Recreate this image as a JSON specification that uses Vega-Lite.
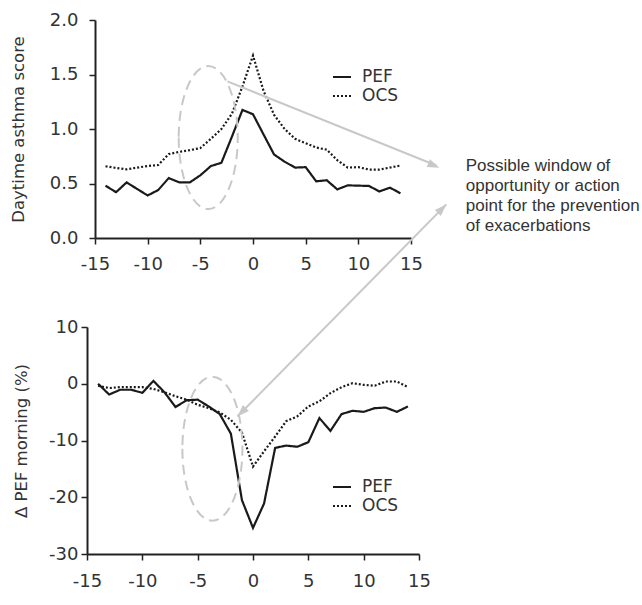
{
  "$schema": "https://vega.github.io/schema/vega-lite/v6.json",
  "background": "white",
  "padding": {"left": 10, "top": 11, "right": 0, "bottom": 5},
  "bounds": "flush",
  "center": true,
  "spacing": 89,
  "config": {
    "view": {"stroke": null},
    "axis": {
      "grid": false,
      "domainColor": "#222222",
      "domainWidth": 2,
      "tickColor": "#222222",
      "tickWidth": 1.5,
      "tickSize": 6,
      "labelColor": "#333333",
      "labelFont": "DejaVu Sans",
      "labelFontSize": 18,
      "titleColor": "#333333",
      "titleFont": "DejaVu Sans",
      "titleFontSize": 16.5,
      "titleFontWeight": "normal",
      "labelOverlap": false,
      "labelFlush": false,
      "labelExpr": "replace(datum.label, '\u2212', '-')"
    },
    "legend": {
      "labelFont": "DejaVu Sans",
      "labelFontSize": 17,
      "labelColor": "#333333",
      "padding": 0,
      "symbolType": "stroke",
      "symbolSize": 324,
      "symbolStrokeWidth": 2,
      "symbolStrokeColor": "#1a1a1a",
      "rowPadding": 1,
      "labelOffset": 10
    }
  },
  "resolve": {"scale": {"strokeDash": "independent"}, "legend": {"strokeDash": "independent"}},
  "datasets": {
    "daytime": [
      {"day": -14, "series": "PEF", "value": 0.48}, {"day": -13, "series": "PEF", "value": 0.42}, {"day": -12, "series": "PEF", "value": 0.51},
      {"day": -11, "series": "PEF", "value": 0.45}, {"day": -10, "series": "PEF", "value": 0.39}, {"day": -9, "series": "PEF", "value": 0.44},
      {"day": -8, "series": "PEF", "value": 0.55}, {"day": -7, "series": "PEF", "value": 0.51}, {"day": -6, "series": "PEF", "value": 0.51},
      {"day": -5, "series": "PEF", "value": 0.575}, {"day": -4, "series": "PEF", "value": 0.66}, {"day": -3, "series": "PEF", "value": 0.69},
      {"day": -2, "series": "PEF", "value": 0.93}, {"day": -1, "series": "PEF", "value": 1.175}, {"day": 0, "series": "PEF", "value": 1.135},
      {"day": 1, "series": "PEF", "value": 0.95}, {"day": 2, "series": "PEF", "value": 0.766}, {"day": 3, "series": "PEF", "value": 0.7},
      {"day": 4, "series": "PEF", "value": 0.646}, {"day": 5, "series": "PEF", "value": 0.65}, {"day": 6, "series": "PEF", "value": 0.52},
      {"day": 7, "series": "PEF", "value": 0.53}, {"day": 8, "series": "PEF", "value": 0.446}, {"day": 9, "series": "PEF", "value": 0.483},
      {"day": 10, "series": "PEF", "value": 0.48}, {"day": 11, "series": "PEF", "value": 0.478}, {"day": 12, "series": "PEF", "value": 0.427},
      {"day": 13, "series": "PEF", "value": 0.462}, {"day": 14, "series": "PEF", "value": 0.41},
      {"day": -14, "series": "OCS", "value": 0.658}, {"day": -13, "series": "OCS", "value": 0.643}, {"day": -12, "series": "OCS", "value": 0.63},
      {"day": -11, "series": "OCS", "value": 0.646}, {"day": -10, "series": "OCS", "value": 0.66}, {"day": -9, "series": "OCS", "value": 0.67},
      {"day": -8, "series": "OCS", "value": 0.77}, {"day": -7, "series": "OCS", "value": 0.79}, {"day": -6, "series": "OCS", "value": 0.806},
      {"day": -5, "series": "OCS", "value": 0.825}, {"day": -4, "series": "OCS", "value": 0.91}, {"day": -3, "series": "OCS", "value": 1.0},
      {"day": -2, "series": "OCS", "value": 1.14}, {"day": -1, "series": "OCS", "value": 1.39}, {"day": 0, "series": "OCS", "value": 1.674},
      {"day": 1, "series": "OCS", "value": 1.35}, {"day": 2, "series": "OCS", "value": 1.13}, {"day": 3, "series": "OCS", "value": 1.0},
      {"day": 4, "series": "OCS", "value": 0.91}, {"day": 5, "series": "OCS", "value": 0.87}, {"day": 6, "series": "OCS", "value": 0.83},
      {"day": 7, "series": "OCS", "value": 0.81}, {"day": 8, "series": "OCS", "value": 0.714}, {"day": 9, "series": "OCS", "value": 0.646},
      {"day": 10, "series": "OCS", "value": 0.65}, {"day": 11, "series": "OCS", "value": 0.628}, {"day": 12, "series": "OCS", "value": 0.628},
      {"day": 13, "series": "OCS", "value": 0.646}, {"day": 14, "series": "OCS", "value": 0.665}
    ],
    "pefmorning": [
      {"day": -14, "series": "PEF", "value": 0}, {"day": -13, "series": "PEF", "value": -1.9}, {"day": -12, "series": "PEF", "value": -1.06},
      {"day": -11, "series": "PEF", "value": -1.06}, {"day": -10, "series": "PEF", "value": -1.6}, {"day": -9, "series": "PEF", "value": 0.5},
      {"day": -8, "series": "PEF", "value": -1.5}, {"day": -7, "series": "PEF", "value": -4.1}, {"day": -6, "series": "PEF", "value": -2.9},
      {"day": -5, "series": "PEF", "value": -2.8}, {"day": -4, "series": "PEF", "value": -4.0}, {"day": -3, "series": "PEF", "value": -5.35},
      {"day": -2, "series": "PEF", "value": -8.8}, {"day": -1, "series": "PEF", "value": -20.5}, {"day": 0, "series": "PEF", "value": -25.4},
      {"day": 1, "series": "PEF", "value": -21.1}, {"day": 2, "series": "PEF", "value": -11.3}, {"day": 3, "series": "PEF", "value": -10.9},
      {"day": 4, "series": "PEF", "value": -11.1}, {"day": 5, "series": "PEF", "value": -10.3}, {"day": 6, "series": "PEF", "value": -6.05},
      {"day": 7, "series": "PEF", "value": -8.3}, {"day": 8, "series": "PEF", "value": -5.35}, {"day": 9, "series": "PEF", "value": -4.76},
      {"day": 10, "series": "PEF", "value": -4.95}, {"day": 11, "series": "PEF", "value": -4.3}, {"day": 12, "series": "PEF", "value": -4.2},
      {"day": 13, "series": "PEF", "value": -4.95}, {"day": 14, "series": "PEF", "value": -4.0},
      {"day": -14, "series": "OCS", "value": -0.35}, {"day": -13, "series": "OCS", "value": -0.76}, {"day": -12, "series": "OCS", "value": -0.6},
      {"day": -11, "series": "OCS", "value": -0.6}, {"day": -10, "series": "OCS", "value": -0.6}, {"day": -9, "series": "OCS", "value": -0.9},
      {"day": -8, "series": "OCS", "value": -1.5}, {"day": -7, "series": "OCS", "value": -2.2}, {"day": -6, "series": "OCS", "value": -2.8},
      {"day": -5, "series": "OCS", "value": -3.7}, {"day": -4, "series": "OCS", "value": -4.3}, {"day": -3, "series": "OCS", "value": -5.06},
      {"day": -2, "series": "OCS", "value": -6.35}, {"day": -1, "series": "OCS", "value": -8.6}, {"day": 0, "series": "OCS", "value": -14.6},
      {"day": 1, "series": "OCS", "value": -11.9}, {"day": 2, "series": "OCS", "value": -9.3}, {"day": 3, "series": "OCS", "value": -6.6},
      {"day": 4, "series": "OCS", "value": -5.75}, {"day": 5, "series": "OCS", "value": -4.0}, {"day": 6, "series": "OCS", "value": -3.1},
      {"day": 7, "series": "OCS", "value": -1.65}, {"day": 8, "series": "OCS", "value": -0.6}, {"day": 9, "series": "OCS", "value": 0.1},
      {"day": 10, "series": "OCS", "value": -0.2}, {"day": 11, "series": "OCS", "value": -0.35}, {"day": 12, "series": "OCS", "value": 0.4},
      {"day": 13, "series": "OCS", "value": 0.4}, {"day": 14, "series": "OCS", "value": -0.6}
    ]
  },
  "vconcat": [
    {
      "width": 316,
      "height": 218,
      "layer": [
        {
          "data": {"name": "daytime"},
          "mark": {"type": "line", "strokeWidth": 2.2, "color": "#1a1a1a"},
          "encoding": {
            "x": {"field": "day", "type": "quantitative", "scale": {"domain": [-15, 15], "nice": false},
                  "axis": {"title": null, "values": [-15, -10, -5, 0, 5, 10, 15], "labelPadding": 11}},
            "y": {"field": "value", "type": "quantitative", "scale": {"domain": [0, 2], "nice": false},
                  "axis": {"title": "Daytime asthma score", "values": [0, 0.5, 1, 1.5, 2], "format": ".1f", "labelPadding": 11, "titlePadding": 23}},
            "strokeDash": {"field": "series", "type": "nominal", "scale": {"domain": ["PEF", "OCS"], "range": [[1, 0], [2, 2]]},
                           "legend": {"title": null, "orient": "none", "legendX": 237, "legendY": 47}}
          }
        },
        {
          "data": {"values": [{}]},
          "mark": {"type": "point", "shape": "M -0.413 0 A 0.413 1 0 1 0 0.413 0 A 0.413 1 0 1 0 -0.413 0 Z", "filled": false, "size": 20449, "color": "#c8c8c8", "strokeWidth": 2, "strokeDash": [10, 6], "opacity": 1},
          "encoding": {"x": {"datum": -4.25}, "y": {"datum": 0.921}}
        },
        {
          "data": {"values": [{}]},
          "mark": {"type": "rule", "color": "#c8c8c8", "strokeWidth": 2},
          "encoding": {"x": {"datum": -2.43}, "y": {"datum": 1.437}, "x2": {"datum": 17.4}, "y2": {"datum": 0.665}}
        },
        {
          "data": {"values": [{}]},
          "mark": {"type": "point", "shape": "M 0 0 L 0.7 2 L -0.7 2 Z", "filled": true, "size": 144, "color": "#c8c8c8", "angle": 112, "opacity": 1},
          "encoding": {"x": {"datum": 17.7}, "y": {"datum": 0.645}}
        },
        {
          "data": {"values": [{}]},
          "mark": {"type": "text", "text": ["Possible window of", "opportunity or action", "point for the prevention", "of exacerbations"],
                   "align": "left", "baseline": "alphabetic", "font": "Liberation Sans", "fontSize": 17, "lineHeight": 20, "color": "#333333"},
          "encoding": {"x": {"datum": 20.2}, "y": {"datum": 0.612}}
        }
      ]
    },
    {
      "width": 332,
      "height": 227,
      "layer": [
        {
          "data": {"name": "pefmorning"},
          "mark": {"type": "line", "strokeWidth": 2.2, "color": "#1a1a1a"},
          "encoding": {
            "x": {"field": "day", "type": "quantitative", "scale": {"domain": [-15, 15], "nice": false},
                  "axis": {"title": null, "values": [-15, -10, -5, 0, 5, 10, 15], "labelPadding": 12}},
            "y": {"field": "value", "type": "quantitative", "scale": {"domain": [-30, 10], "nice": false},
                  "axis": {"title": "Δ PEF morning (%)", "values": [-30, -20, -10, 0, 10], "labelPadding": 3, "titlePadding": 19}},
            "strokeDash": {"field": "series", "type": "nominal", "scale": {"domain": ["PEF", "OCS"], "range": [[1, 0], [2, 2]]},
                           "legend": {"title": null, "orient": "none", "legendX": 245, "legendY": 150}}
          }
        },
        {
          "data": {"values": [{}]},
          "mark": {"type": "point", "shape": "M -0.417 0 A 0.417 1 0 1 0 0.417 0 A 0.417 1 0 1 0 -0.417 0 Z", "filled": false, "size": 20736, "color": "#c8c8c8", "strokeWidth": 2, "strokeDash": [10, 6], "opacity": 1},
          "encoding": {"x": {"datum": -3.67}, "y": {"datum": -11.45}}
        },
        {
          "data": {"values": [{}]},
          "mark": {"type": "rule", "color": "#c8c8c8", "strokeWidth": 2},
          "encoding": {"x": {"datum": -1.41}, "y": {"datum": -5.76}, "x2": {"datum": 17.47}, "y2": {"datum": 31.6}}
        },
        {
          "data": {"values": [{}]},
          "mark": {"type": "point", "shape": "M 0 0 L 0.7 2 L -0.7 2 Z", "filled": true, "size": 144, "color": "#c8c8c8", "angle": 225, "opacity": 1},
          "encoding": {"x": {"datum": -1.41}, "y": {"datum": -5.76}}
        },
        {
          "data": {"values": [{}]},
          "mark": {"type": "point", "shape": "M 0 0 L 0.7 2 L -0.7 2 Z", "filled": true, "size": 144, "color": "#c8c8c8", "angle": 45, "opacity": 1},
          "encoding": {"x": {"datum": 17.47}, "y": {"datum": 31.6}}
        }
      ]
    }
  ]
}
